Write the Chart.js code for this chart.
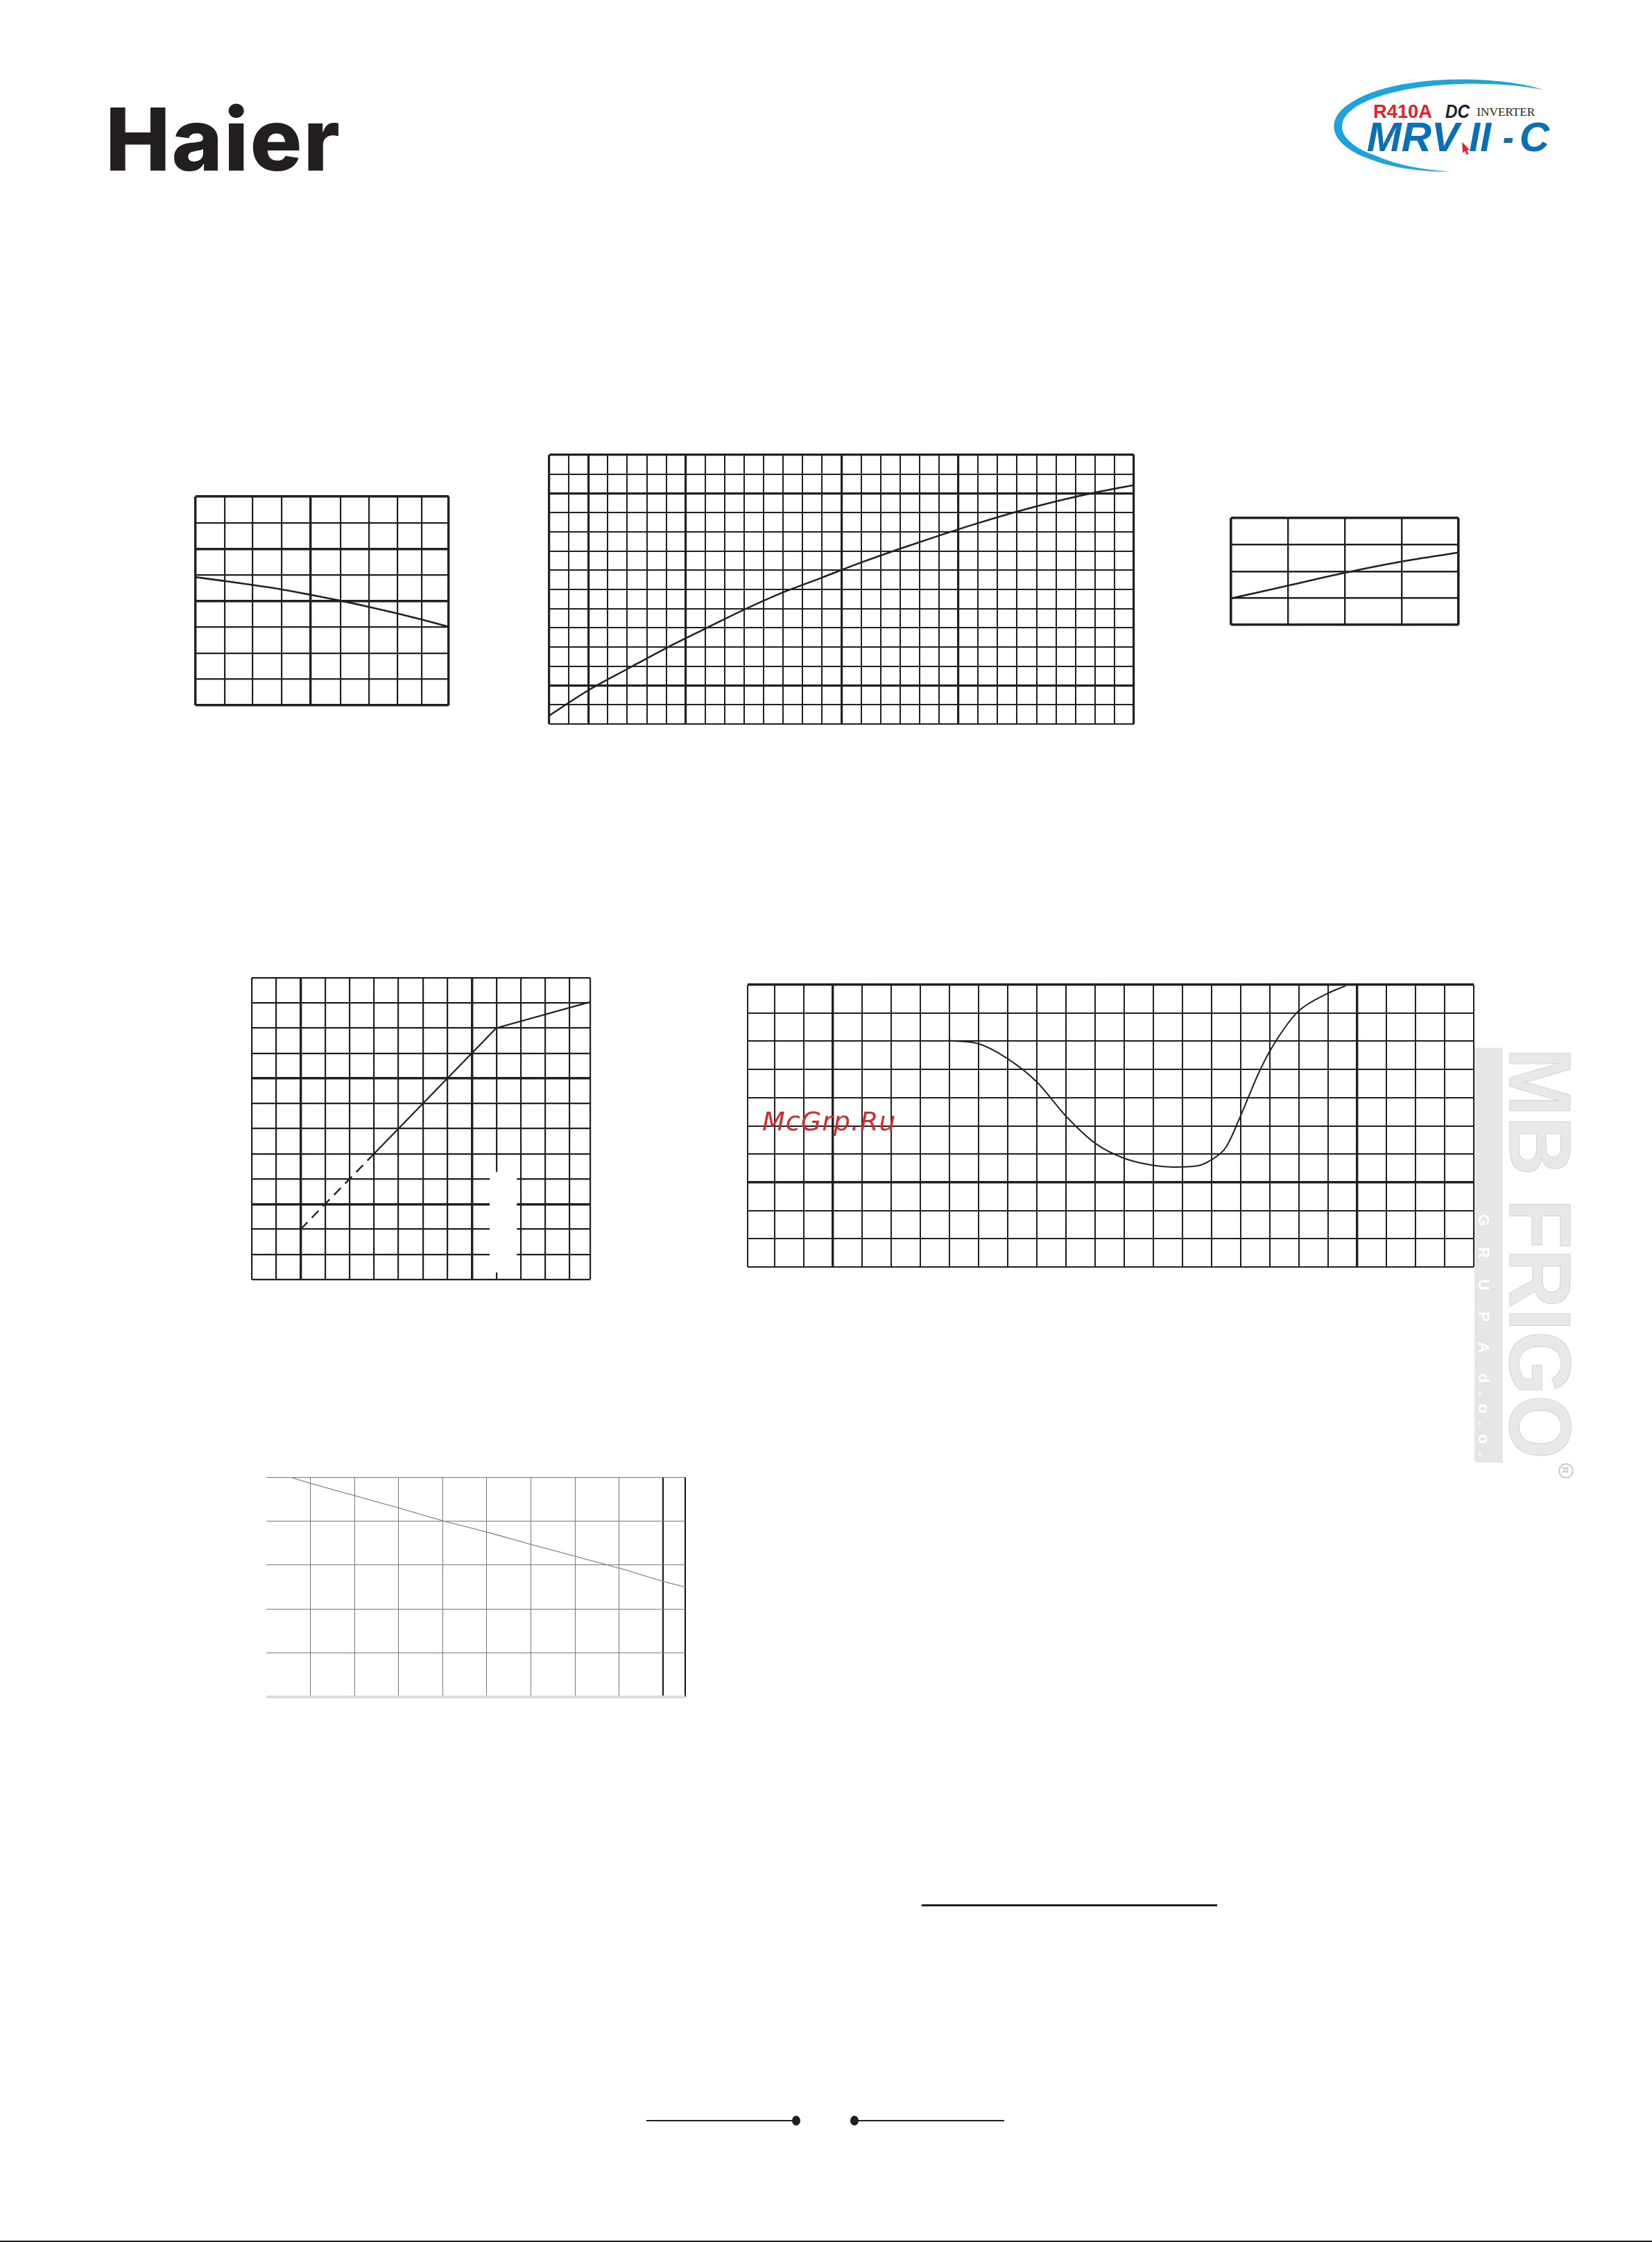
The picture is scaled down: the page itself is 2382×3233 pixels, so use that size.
<!DOCTYPE html>
<html lang="en">
<head>
<meta charset="UTF-8" />
<title>Haier MRV II-C curves</title>
<script src="https://cdn.jsdelivr.net/npm/chart.js"></script>
<style>
  html, body { margin: 0; padding: 0; background: #fff; }
  #page { position: relative; width: 2382px; height: 3233px; overflow: hidden; background: #fff; }
  .abs { position: absolute; }
  canvas { position: absolute; }
  #haier { left: 152px; top: 138px; font: 800 125px Inter, "Liberation Sans", sans-serif; line-height: 1; color: #231f20; letter-spacing: 2px; white-space: nowrap; }
  #mark { left: 1099px; top: 1598px; font: italic 38px "DejaVu Sans", sans-serif; line-height: 1; color: #d42a2f; letter-spacing: 1px; white-space: nowrap; }
  .rule { background: #231f20; }
  .dot { background: #231f20; border-radius: 50%; width: 12px; height: 14px; }
</style>
</head>
<body>
<div id="page">
  <div class="abs" id="haier">Haier</div>

  <!-- product logo -->
  <svg class="abs" style="left:1900px;top:90px" width="360" height="180" viewBox="0 0 1080 540">
    <path d="M975,118 C760,50 330,55 150,170 C20,245 50,360 230,420 C340,462 470,474 575,472
             C470,466 350,448 255,405 C90,350 50,250 190,178 C380,80 760,75 975,118 Z" fill="#1ea3dc"/>
    <text x="240" y="240" font-family="Liberation Sans" font-weight="bold" font-size="84" fill="#e5202e" textLength="255" lengthAdjust="spacingAndGlyphs">R410A</text>
    <text x="552" y="240" font-family="Liberation Sans" font-weight="bold" font-style="italic" font-size="84" fill="#231f20" textLength="105" lengthAdjust="spacingAndGlyphs">DC</text>
    <text x="688" y="230" font-family="Liberation Serif" font-size="50" fill="#231f20" textLength="252" lengthAdjust="spacingAndGlyphs">INVERTER</text>
    <text x="212" y="385" font-family="Liberation Sans" font-weight="bold" font-style="italic" font-size="177" fill="#0b6fb6" textLength="400" lengthAdjust="spacingAndGlyphs">MRV</text>
    <text x="655" y="385" font-family="Liberation Sans" font-weight="bold" font-style="italic" font-size="177" fill="#0b6fb6" textLength="95" lengthAdjust="spacingAndGlyphs">II</text>
    <text x="800" y="385" font-family="Liberation Sans" font-weight="bold" font-style="italic" font-size="177" fill="#0b6fb6" textLength="48" lengthAdjust="spacingAndGlyphs">-</text>
    <text x="872" y="385" font-family="Liberation Sans" font-weight="bold" font-style="italic" font-size="177" fill="#0b6fb6" textLength="130" lengthAdjust="spacingAndGlyphs">C</text>
    <polygon points="625,345 657,378 644,380 653,396 645,399 636,383 627,392" fill="#e5202e"/>
  </svg>

  <!-- side watermark -->
  <svg class="abs" style="left:2110px;top:1490px" width="250" height="700" viewBox="0 0 250 700">
    <rect x="16" y="21" width="41" height="598" fill="#e6e6e6"/>
    <text transform="translate(22,261) rotate(90)" font-family="Liberation Sans" font-weight="bold" font-size="22" fill="#fff" textLength="349" lengthAdjust="spacing">G R U P A  d.o.o.</text>
    <text transform="translate(67,21) rotate(90)" font-family="Liberation Sans" font-weight="bold" font-size="127" fill="#e8e8e8" stroke="#d2d2d2" stroke-width="1" textLength="593" lengthAdjust="spacingAndGlyphs">MB FRIGO</text>
    <circle cx="148" cy="631" r="10" fill="none" stroke="#cccccc" stroke-width="2"/>
    <text transform="translate(142,625) rotate(90)" font-family="Liberation Sans" font-weight="bold" font-size="13" fill="#cccccc">R</text>
  </svg>

  <canvas id="c1" width="373" height="309" style="left:278px;top:712px"></canvas>
  <canvas id="c2" width="851" height="396" style="left:788px;top:652px"></canvas>
  <canvas id="c3" width="336" height="162" style="left:1771px;top:743px"></canvas>
  <canvas id="c4" width="496" height="443" style="left:359px;top:1406px"></canvas>
  <canvas id="c5" width="1055" height="415" style="left:1074px;top:1416px"></canvas>
  <canvas id="c6" width="612" height="325" style="left:380px;top:2126px"></canvas>

  <div class="abs" id="mark">McGrp.Ru</div>

  <div class="abs rule" style="left:1329px;top:2746px;width:426px;height:3px"></div>
  <div class="abs rule" style="left:932px;top:3057px;width:216px;height:2px"></div>
  <div class="abs dot" style="left:1142px;top:3051px"></div>
  <div class="abs dot" style="left:1226px;top:3051px"></div>
  <div class="abs rule" style="left:1232px;top:3057px;width:216px;height:2px"></div>
  <div class="abs rule" style="left:0;top:3231px;width:2382px;height:2px"></div>
</div>

<script>
const INK = '#231f20';
const PAD = 4;

// chart 1 (top left)
const c1GridX = [0, 1.04, 2.03, 3.05, 4.09, 5.15, 6.16, 7.19, 8.03, 9];
const c1GridY = [0, 1, 2, 3, 4, 5, 6, 7, 8];
const c1X = [0, 1.04, 2.03, 3.05, 4.09, 5.15, 6.16, 7.19, 8.03, 9];
const c1Y = [4.91, 4.76, 4.61, 4.44, 4.235, 4.01, 3.77, 3.515, 3.29, 3.01];

// chart 2 (top middle)
const c2GridX = Array.from({ length: 31 }, (_, i) => i);
const c2GridY = Array.from({ length: 15 }, (_, i) => i);
const c2X = [0, 2, 4, 6, 8, 10, 12, 14, 16, 18, 20, 22, 24, 26, 28, 30];
const c2Y = [0.44, 1.75, 2.86, 3.95, 4.96, 5.95, 6.85, 7.62, 8.4, 9.12, 9.8, 10.45, 11.05, 11.58, 12.04, 12.43];

// chart 3 (top right)
const c3GridX = [0, 1, 2, 3, 4];
const c3GridY = [0, 1, 2, 3, 4];
const c3X = [0, 1, 2, 3, 4];
const c3Y = [0.99, 1.47, 1.95, 2.37, 2.71];

// chart 4 (middle left)
const c4GridX = [0, 1, 2, 3, 4, 5, 6, 7, 8, 9, 10, 11, 12, 13, 13.84];
const c4GridY = [0, 1, 2, 3, 4, 5, 6, 7, 8, 9, 10, 11, 12];
const c4DashX = [2, 5];
const c4DashY = [2, 5];
const c4SolidX = [5, 10, 13.81];
const c4SolidY = [5, 10, 11.03];

// chart 5 (middle right)
const c5GridX = [0.08, 1, 2, 3, 4, 5, 6, 7, 8, 9, 10, 11, 12, 13, 14, 15, 16, 17, 18, 19, 20, 21, 22, 23, 24, 25];
const c5GridY = [0, 1, 2, 3, 4, 5, 6, 7, 8, 9, 10];
const c5X = [7, 8, 9, 10, 11, 12, 13, 14, 14.7, 15.5, 16, 16.5, 17, 17.6, 18, 18.6, 19, 20, 20.6];
const c5Y = [8.02, 7.91, 7.38, 6.56, 5.35, 4.39, 3.85, 3.6, 3.54, 3.58, 3.8, 4.25, 5.36, 6.83, 7.65, 8.6, 9.08, 9.7, 9.96];

// chart 6 (bottom left)
const c6GridX = [0, 1, 2, 3, 4, 5, 6, 7, 8, 9, 9.5];
const c6GridY = [0, 1, 2, 3, 4, 5];
const c6X = [0.53, 1, 2, 3, 4, 5, 6, 7, 8, 9, 9.5];
const c6Y = [5.0, 4.86, 4.58, 4.30, 4.01, 3.75, 3.47, 3.2, 2.93, 2.63, 2.5];

const pts = (xs, ys) => xs.map((x, i) => ({ x: x, y: ys[i] }));

// white patch over part of chart 4 grid
const gapPlugin = {
  id: 'gap',
  afterDraw(chart, args, o) {
    if (!o || o.x0 === undefined) return;
    const { x, y } = chart.scales;
    const ctx = chart.ctx;
    const l = x.getPixelForValue(o.x0), r = x.getPixelForValue(o.x1);
    const t = y.getPixelForValue(o.y1), b = y.getPixelForValue(o.y0);
    ctx.save();
    ctx.fillStyle = '#fff';
    ctx.fillRect(l, t, r - l, b - t);
    ctx.restore();
  }
};

function axis(grid, style) {
  return {
    type: 'linear',
    min: grid[0],
    max: grid[grid.length - 1],
    ticks: { display: false },
    border: { display: false },
    grid: {
      drawTicks: false,
      color: style.color,
      lineWidth: style.width
    },
    afterBuildTicks: s => { s.ticks = grid.map(v => ({ value: v })); }
  };
}

// grid line width: thick on listed values
function widths(thick, lw, lwThick) {
  return c => (c.tick && thick.includes(c.tick.value)) ? lwThick : lw;
}

function gridChart(id, datasets, xStyle, yStyle, gridX, gridY, gap) {
  return new Chart(document.getElementById(id), {
    type: 'line',
    data: { datasets: datasets },
    options: {
      responsive: false,
      animation: false,
      events: [],
      layout: { padding: PAD },
      plugins: { legend: { display: false }, tooltip: { enabled: false }, gap: gap || {} },
      scales: { x: axis(gridX, xStyle), y: axis(gridY, yStyle) }
    },
    plugins: [gapPlugin]
  });
}

function curve(data, w, extra) {
  return Object.assign({
    data: data, borderColor: INK, borderWidth: w, pointRadius: 0,
    fill: false, cubicInterpolationMode: 'monotone'
  }, extra || {});
}

gridChart('c1', [curve(pts(c1X, c1Y), 2.6)],
  { color: INK, width: widths([0, 4.09, 9], 2.2, 3.4) },
  { color: INK, width: widths([0, 4, 6, 8], 2.2, 3.4) },
  c1GridX, c1GridY);

gridChart('c2', [curve(pts(c2X, c2Y), 2.5)],
  { color: INK, width: widths([0, 2, 7, 15, 21, 30], 2, 3.2) },
  { color: INK, width: widths([2, 12, 14], 2, 3.2) },
  c2GridX, c2GridY);

gridChart('c3', [curve(pts(c3X, c3Y), 2.6)],
  { color: INK, width: widths([0, 4], 2.4, 3.6) },
  { color: INK, width: widths([0, 4], 2.4, 3.6) },
  c3GridX, c3GridY);

gridChart('c4', [
    curve(pts(c4DashX, c4DashY), 2.4, { borderDash: [14, 9], cubicInterpolationMode: 'default', tension: 0 }),
    curve(pts(c4SolidX, c4SolidY), 2.2, { cubicInterpolationMode: 'default', tension: 0 })
  ],
  { color: INK, width: widths([2, 9], 2.2, 3.4) },
  { color: INK, width: widths([3, 8], 2.2, 3.4) },
  c4GridX, c4GridY,
  { x0: 9.73, x1: 10.84, y0: 0.28, y1: 4.28 });

gridChart('c5', [curve(pts(c5X, c5Y), 2)],
  { color: INK, width: widths([3, 21], 2, 3.4) },
  { color: INK, width: widths([3, 10], 2, 3.4) },
  c5GridX, c5GridY);

gridChart('c6', [curve(pts(c6X, c6Y), 1.3, { borderColor: '#8a8a8a' })],
  {
    color: c => !c.tick ? '#777' : (c.tick.value === 0 ? 'rgba(0,0,0,0)' : (c.tick.value >= 9 ? '#111' : '#777')),
    width: widths([9, 9.5], 1, 2)
  },
  {
    color: c => (c.tick && c.tick.value === 0) ? '#dcdcdc' : '#777',
    width: widths([0], 1, 4)
  },
  c6GridX, c6GridY);
</script>
</body>
</html>
